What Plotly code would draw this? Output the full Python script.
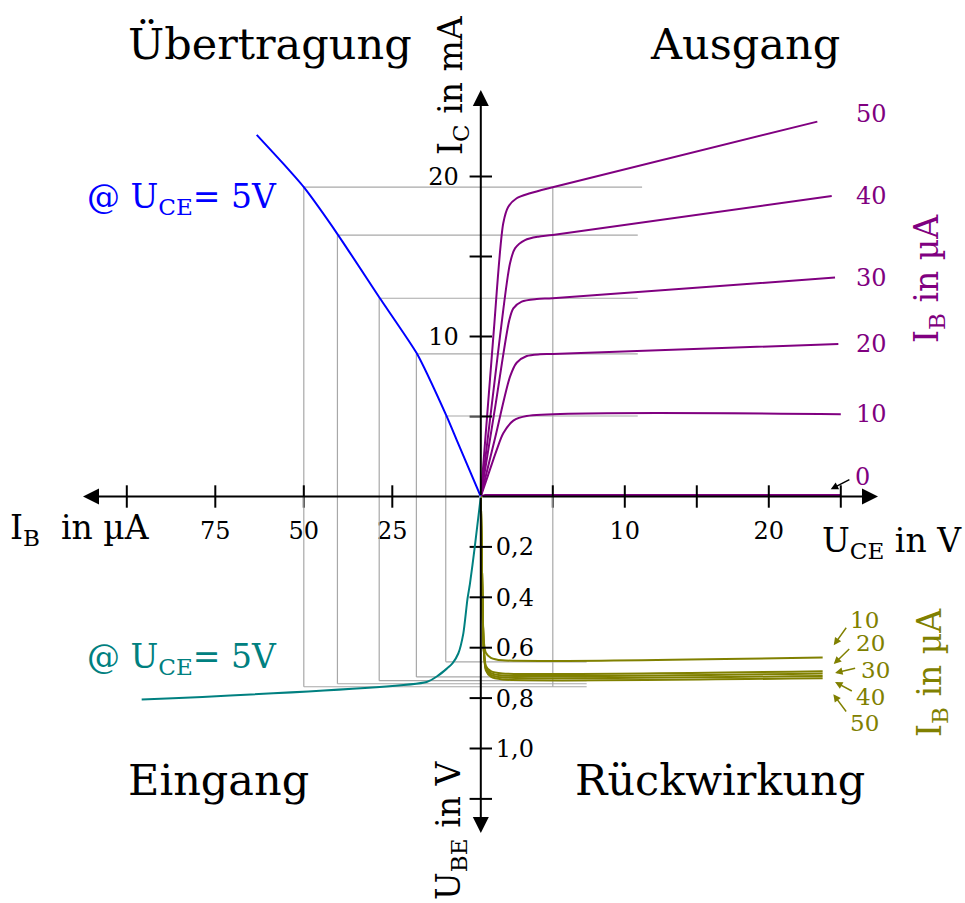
import plotly.graph_objects as go

# ---------------- data ----------------
# Output characteristics (Ausgang): U_CE in V -> I_C in mA, per base current I_B
uce_ib0 = [0, 0.3, 25.0]
ic_ib0 = [0, 0.1, 0.1]
uce_ib10 = [0, 0.5, 1.1, 1.56, 2.26, 3.19, 25.0]
ic_ib10 = [0, 1.32, 2.9, 3.95, 4.74, 5.03, 5.14]
uce_ib20 = [0, 1.0, 2.03, 2.49, 3.19, 4.11, 4.99, 24.83]
ic_ib20 = [0, 3.69, 7.49, 8.36, 8.78, 8.89, 8.91, 9.53]
uce_ib30 = [0, 1.0, 1.98, 2.26, 2.84, 3.88, 4.99, 24.6]
ic_ib30 = [0, 5.6, 11.03, 11.76, 12.18, 12.34, 12.39, 13.68]
uce_ib40 = [0, 1.33, 2.03, 2.375, 3.07, 3.99, 4.99, 24.37]
ic_ib40 = [0, 9.99, 14.58, 15.51, 16.03, 16.24, 16.34, 18.78]
uce_ib50 = [0, 0.87, 1.56, 1.91, 2.49, 3.42, 4.99, 23.37]
ic_ib50 = [0, 9.99, 17.08, 18.11, 18.64, 18.95, 19.33, 23.43]
output_ib_labels = ["0", "10", "20", "30", "40", "50"]

# Transfer characteristic (Übertragung) @ U_CE = 5 V: I_B in uA -> I_C in mA
ib_transfer = [0, 6.8, 9.6, 18.1, 28.5, 40.3, 50.1, 55.8, 63.3]
ic_transfer = [0, 3.53, 4.99, 8.95, 12.39, 16.34, 19.36, 20.8, 22.6]

# Input characteristic (Eingang) @ U_CE = 5 V: I_B in uA -> U_BE in V
ib_input = [0, 1.7, 3.05, 3.8, 4.94, 6.36, 8.0, 9.6, 12.0, 15.3, 95.8]
ube_input = [0, 0.2, 0.345, 0.41, 0.544, 0.623, 0.662, 0.683, 0.71, 0.736, 0.806]

# Feedback characteristics (Rückwirkung): U_CE in V -> U_BE in V
uce_fb = [0, 0.1, 0.2, 0.35, 0.7, 1.5, 23.74]
ube_fb_ib10 = [0, 0.35, 0.57, 0.62, 0.640, 0.650, 0.639]
ube_fb_ib20 = [0, 0.35, 0.60, 0.672, 0.693, 0.702, 0.693]
ube_fb_ib30 = [0, 0.35, 0.60, 0.678, 0.701, 0.710, 0.702]
ube_fb_ib40 = [0, 0.35, 0.60, 0.684, 0.708, 0.718, 0.712]
ube_fb_ib50 = [0, 0.35, 0.60, 0.690, 0.715, 0.726, 0.721]
fb_ib_labels = ["10", "20", "30", "40", "50"]

# Operating points at U_CE = 5 V (grey construction lines)
uce_op = 5.0
ib_op = [9.9, 18.2, 28.7, 40.5, 50.0]
ic_op = [5.03, 8.91, 12.39, 16.34, 19.33]
ube_op = [0.656, 0.716, 0.731, 0.743, 0.755]

# Axis ticks and labels
uce_ticks = [5, 10, 15, 20, 25]
uce_ticklabels = [10, 20]
ib_ticks = [25, 50, 75, 100]
ib_ticklabels = [25, 50, 75]
ic_ticks = [5, 10, 15, 20]
ic_ticklabels = [10, 20]
ube_ticks = [0.2, 0.4, 0.6, 0.8, 1.0, 1.2]
ube_ticklabels = [0.2, 0.4, 0.6, 0.8, 1.0]

# ---------------- geometry / style ----------------
W, H = 965, 903
OX, OY = 480.8, 496.5          # origin in pixels
S_UCE, S_IB, S_IC, S_UBE = 14.4, 3.54, 16.0, 252.0   # px per unit
X0 = OX / W
Y0 = (H - OY) / H
FONT = "DejaVu Serif"
PURPLE, BLUE, TEAL, OLIVE, GREY = "#800080", "#0000ff", "#008080", "#808000", "#a8a8a8"


def px(xp):
    return xp / W


def py(yp):
    return 1 - yp / H


fig = go.Figure()


def line(x, y, xa, ya, color, width=2, shape="spline", smoothing=0.6):
    fig.add_trace(go.Scatter(x=x, y=y, xaxis=xa, yaxis=ya, mode="lines",
                             line=dict(color=color, width=width, shape=shape, smoothing=smoothing),
                             hoverinfo="skip", showlegend=False, cliponaxis=False))


def with_gaps(segments):
    xs, ys = [], []
    for sx, sy in segments:
        xs += list(sx) + [None]
        ys += list(sy) + [None]
    return xs, ys


# grey construction lines
top_right_end = [10.9, 10.9, 10.9, 10.9, 11.2]
bottom_right_end = 7.35
seg_q2 = [([ib, 0], [ic, ic]) for ib, ic in zip(ib_op, ic_op)] + \
         [([ib, ib], [ic, 0]) for ib, ic in zip(ib_op, ic_op)]
seg_q1 = [([0, e], [ic, ic]) for ic, e in zip(ic_op, top_right_end)] + \
         [([uce_op, uce_op], [0, max(ic_op)])]
seg_q3 = [([ib, 0], [u, u]) for ib, u in zip(ib_op, ube_op)] + \
         [([ib, ib], [0, u]) for ib, u in zip(ib_op, ube_op)]
seg_q4 = [([0, bottom_right_end], [u, u]) for u in ube_op] + \
         [([uce_op, uce_op], [0, max(ube_op)])]
for segs, xa, ya in [(seg_q2, "x2", "y"), (seg_q1, "x", "y"), (seg_q3, "x2", "y2"), (seg_q4, "x", "y2")]:
    gx, gy = with_gaps(segs)
    line(gx, gy, xa, ya, GREY, width=1.2, shape="linear")

# curves
out_curves = [(uce_ib0, ic_ib0), (uce_ib10, ic_ib10), (uce_ib20, ic_ib20),
              (uce_ib30, ic_ib30), (uce_ib40, ic_ib40), (uce_ib50, ic_ib50)]
for i, (cx, cy) in enumerate(out_curves):
    line(cx, cy, "x", "y", PURPLE, shape="linear" if i == 0 else "spline", smoothing=0.8)
line(ib_transfer, ic_transfer, "x2", "y", BLUE, smoothing=0.5)
line(ib_input, ube_input, "x2", "y2", TEAL, smoothing=0.6)
fb_curves = [ube_fb_ib10, ube_fb_ib20, ube_fb_ib30, ube_fb_ib40, ube_fb_ib50]
for cy in fb_curves:
    line(uce_fb, cy, "x", "y2", OLIVE, smoothing=0.6)


# tick marks crossing the axes
def ticks(x, y, xa, ya, symbol):
    fig.add_trace(go.Scatter(x=x, y=y, xaxis=xa, yaxis=ya, mode="markers",
                             marker=dict(symbol=symbol, size=16, color="black",
                                         line=dict(width=2, color="black")),
                             hoverinfo="skip", showlegend=False, cliponaxis=False))


ticks(uce_ticks, [0] * len(uce_ticks), "x", "y", "line-ns")
ticks(ib_ticks, [0] * len(ib_ticks), "x2", "y", "line-ns")
ticks([0] * len(ic_ticks), ic_ticks, "x", "y", "line-ew")
ticks([0] * len(ube_ticks), ube_ticks, "x", "y2", "line-ew")

# ---------------- axes ----------------
tickfont = dict(family=FONT, size=24, color="black")
common = dict(showgrid=False, zeroline=False, showline=False, ticks="",
              automargin=False, tickfont=tickfont, fixedrange=True)
fig.update_layout(
    xaxis=dict(domain=[X0, 1], range=[0, (W - OX) / S_UCE], anchor="y", side="bottom",
               tickvals=uce_ticklabels, ticktext=[str(v) for v in uce_ticklabels],
               ticklabelstandoff=17, **common),
    xaxis2=dict(domain=[0, X0], range=[OX / S_IB, 0], anchor="y", side="bottom",
                tickvals=ib_ticklabels, ticktext=[str(v) for v in ib_ticklabels],
                ticklabelstandoff=17, **common),
    yaxis=dict(domain=[Y0, 1], range=[0, OY / S_IC], anchor="x", side="left",
               tickvals=ic_ticklabels, ticktext=[str(v) for v in ic_ticklabels],
               ticklabelstandoff=21, **common),
    yaxis2=dict(domain=[0, Y0], range=[(H - OY) / S_UBE, 0], anchor="x2", side="right",
                tickvals=ube_ticklabels,
                ticktext=[f"{v:.1f}".replace(".", ",") for v in ube_ticklabels],
                ticklabelstandoff=14, **common),
)

ann = []


def arrow(x, y, ax, ay, xref, yref, color="black", width=2, size=1.6):
    ann.append(dict(x=x, y=y, ax=ax, ay=ay, xref=xref, yref=yref, axref=xref, ayref=yref,
                    text="", showarrow=True, arrowhead=2, arrowsize=size,
                    arrowwidth=width, arrowcolor=color, standoff=0))


# main axes with arrow heads
arrow((878 - OX) / S_UCE, 0, 0, 0, "x", "y")
arrow((OX - 83) / S_IB, 0, 0, 0, "x2", "y")
arrow(0, (OY - 90) / S_IC, 0, 0, "x", "y")
arrow(0, (833 - OY) / S_UBE, 0, 0, "x", "y2")


def text(t, x, y, size, color="black", angle=0, xref="paper", yref="paper", xanchor="center"):
    ann.append(dict(text=t, x=x, y=y, xref=xref, yref=yref, showarrow=False,
                    xanchor=xanchor, yanchor="middle", textangle=angle,
                    font=dict(family=FONT, size=size, color=color)))


# quadrant titles
text("Übertragung", px(270), py(44), 43)
text("Ausgang", px(745), py(44), 43)
text("Eingang", px(218), py(780), 43)
text("Rückwirkung", px(720), py(780), 43)

# condition labels
text("@ U<sub>CE</sub>= 5V", px(182), py(198), 33, BLUE)
text("@ U<sub>CE</sub>= 5V", px(182), py(658), 33, TEAL)

# axis titles
text("I<sub>C</sub> in mA", px(452), py(85), 33, angle=-90)
text("U<sub>BE</sub> in V", px(450), py(831), 33, angle=-90)
text("I<sub>B</sub>  in µA", px(80), py(529), 33)
text("U<sub>CE</sub> in V", px(892), py(542), 33)
text("I<sub>B</sub> in µA", px(928), py(279), 33, PURPLE, angle=-90)
text("I<sub>B</sub> in µA", px(931), py(673), 33, OLIVE, angle=-90)

# purple curve labels at the curve ends
lab_x = (871 - OX) / S_UCE
for lab, (cx, cy) in zip(output_ib_labels, out_curves):
    if lab == "0":
        text(lab, (862.7 - OX) / S_UCE, cy[-1] + 1.1, 24, PURPLE, xref="x", yref="y")
        arrow(cx[-1] - 0.7, cy[-1] + 0.35, cx[-1] + 0.7, cy[-1] + 1.0, "x", "y",
              color="black", width=1.5, size=1.0)
    else:
        off = 0.5 if lab == "50" else 0.0
        text(lab, lab_x, cy[-1] + off, 24, PURPLE, xref="x", yref="y")

# olive curve labels with small arrows
fb_label_pos = [(26.68, 0.490), (27.03, 0.583), (27.38, 0.689), (27.03, 0.795), (26.68, 0.898)]
fb_arrow_tip = [(24.51, 0.590), (24.51, 0.665), (24.60, 0.700), (24.60, 0.736), (24.48, 0.785)]
fb_arrow_tail = [(25.45, 0.515), (25.69, 0.599), (26.10, 0.680), (25.87, 0.775), (25.45, 0.859)]
for lab, (lx, ly), (tx, ty), (sx, sy) in zip(fb_ib_labels, fb_label_pos, fb_arrow_tip, fb_arrow_tail):
    text(lab, lx, ly, 23, OLIVE, xref="x", yref="y2")
    arrow(tx, ty, sx, sy, "x", "y2", color=OLIVE, width=1.5, size=1.0)

fig.update_layout(
    width=W, height=H, margin=dict(l=0, r=0, t=0, b=0),
    paper_bgcolor="white", plot_bgcolor="white", template="none",
    showlegend=False, annotations=ann,
)

# remove the browser's default 8px body margin so the figure starts at the window corner
fig.write_html("out.html", config={"displayModeBar": False},
               post_script="document.body.style.margin='0px';")
